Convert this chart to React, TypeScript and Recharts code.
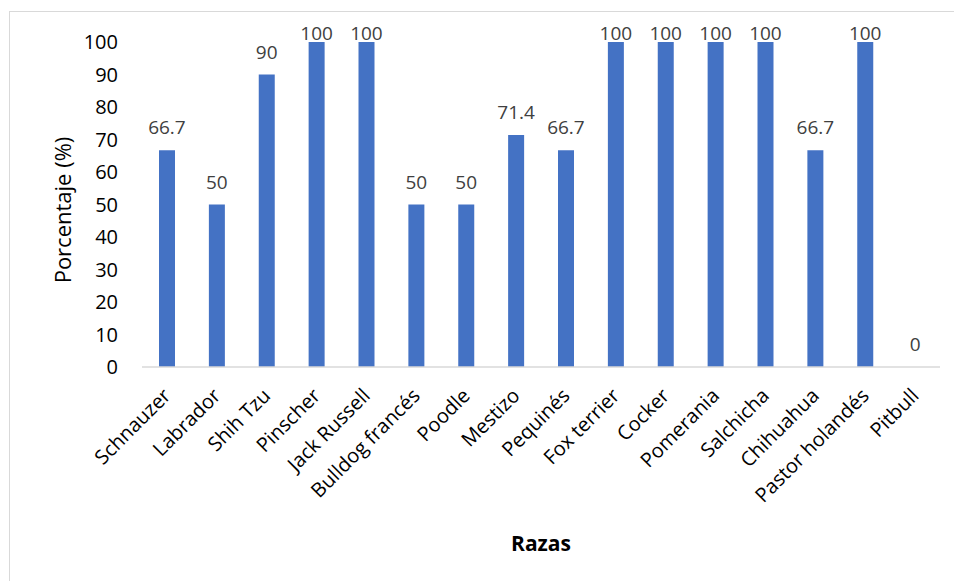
import { Bar, ComposedChart, LabelList, Line, XAxis, YAxis } from "recharts";

const razas = [
  "Schnauzer",
  "Labrador",
  "Shih Tzu",
  "Pinscher",
  "Jack Russell",
  "Bulldog francés",
  "Poodle",
  "Mestizo",
  "Pequinés",
  "Fox terrier",
  "Cocker",
  "Pomerania",
  "Salchicha",
  "Chihuahua",
  "Pastor holandés",
  "Pitbull",
];

const porcentajes = [66.7, 50, 90, 100, 100, 50, 50, 71.4, 66.7, 100, 100, 100, 100, 66.7, 100, 0];

const yTicks = [0, 10, 20, 30, 40, 50, 60, 70, 80, 90, 100];

const data = razas.map((raza, i) => ({ raza, valor: porcentajes[i] }));

const font = "'Open Sans', sans-serif";

function RazaTick({ x, y, payload }: any) {
  return (
    <g transform={`translate(${x},${y + 17})`}>
      <text
        textAnchor="end"
        transform="rotate(-45)"
        fontSize={20}
        fontFamily={font}
        fill="#000"
        dy="0.35em"
      >
        {payload.value}
      </text>
    </g>
  );
}

// etiqueta encima de cada barra (también la de valor 0); no sube por encima del área
function ValorLabel(props: any) {
  const vb = props.viewBox || {};
  const x = Number(props.x ?? vb.x);
  const y = Number(props.y ?? vb.y);
  const w = Number(props.width ?? vb.width ?? 0);
  return (
    <text
      x={x + w / 2}
      y={Math.max(y - 16, 40)}
      textAnchor="middle"
      fontSize={19}
      fontFamily={font}
      fill="#404040"
    >
      {props.value}
    </text>
  );
}

function TituloY() {
  return (
    <text
      x={62}
      y={210}
      transform="rotate(-90 62 210)"
      textAnchor="middle"
      dominantBaseline="central"
      fontSize={22}
      fontFamily={font}
      fill="#000"
    >
      Porcentaje (%)
    </text>
  );
}

function TituloX() {
  return (
    <text
      x={541}
      y={543}
      textAnchor="middle"
      dominantBaseline="central"
      fontSize={21}
      fontWeight="bold"
      fontFamily={font}
      fill="#000"
    >
      Razas
    </text>
  );
}

export default function App() {
  return (
    <div style={{ position: "absolute", left: 0, top: 0, width: 954, height: 581, background: "#fff" }}>
      <div
        style={{
          position: "absolute",
          left: 9,
          top: 11,
          right: 0,
          bottom: 0,
          borderLeft: "1px solid #d9d9d9",
          borderTop: "1px solid #d9d9d9",
        }}
      />
      <ComposedChart
        width={954}
        height={581}
        data={data}
        margin={{ top: 42, right: 14, bottom: 24, left: 0 }}
        style={{ position: "absolute", left: 0, top: 0 }}
      >
        <XAxis
          dataKey="raza"
          interval={0}
          height={190}
          tick={<RazaTick />}
          tickLine={false}
          axisLine={{ stroke: "#d9d9d9", strokeWidth: 1.5 }}
          label={<TituloX />}
        />
        <YAxis
          width={142}
          domain={[0, 100]}
          ticks={yTicks}
          interval={0}
          axisLine={false}
          tickLine={false}
          tickSize={0}
          tickMargin={24}
          tick={{ fontSize: 20, fontFamily: font, fill: "#000" }}
          label={<TituloY />}
        />
        <Bar dataKey="valor" fill="#4472C4" barSize={16} isAnimationActive={false} />
        <Line
          dataKey="valor"
          stroke="none"
          dot={false}
          activeDot={false}
          isAnimationActive={false}
        >
          <LabelList dataKey="valor" content={<ValorLabel />} />
        </Line>
      </ComposedChart>
    </div>
  );
}
